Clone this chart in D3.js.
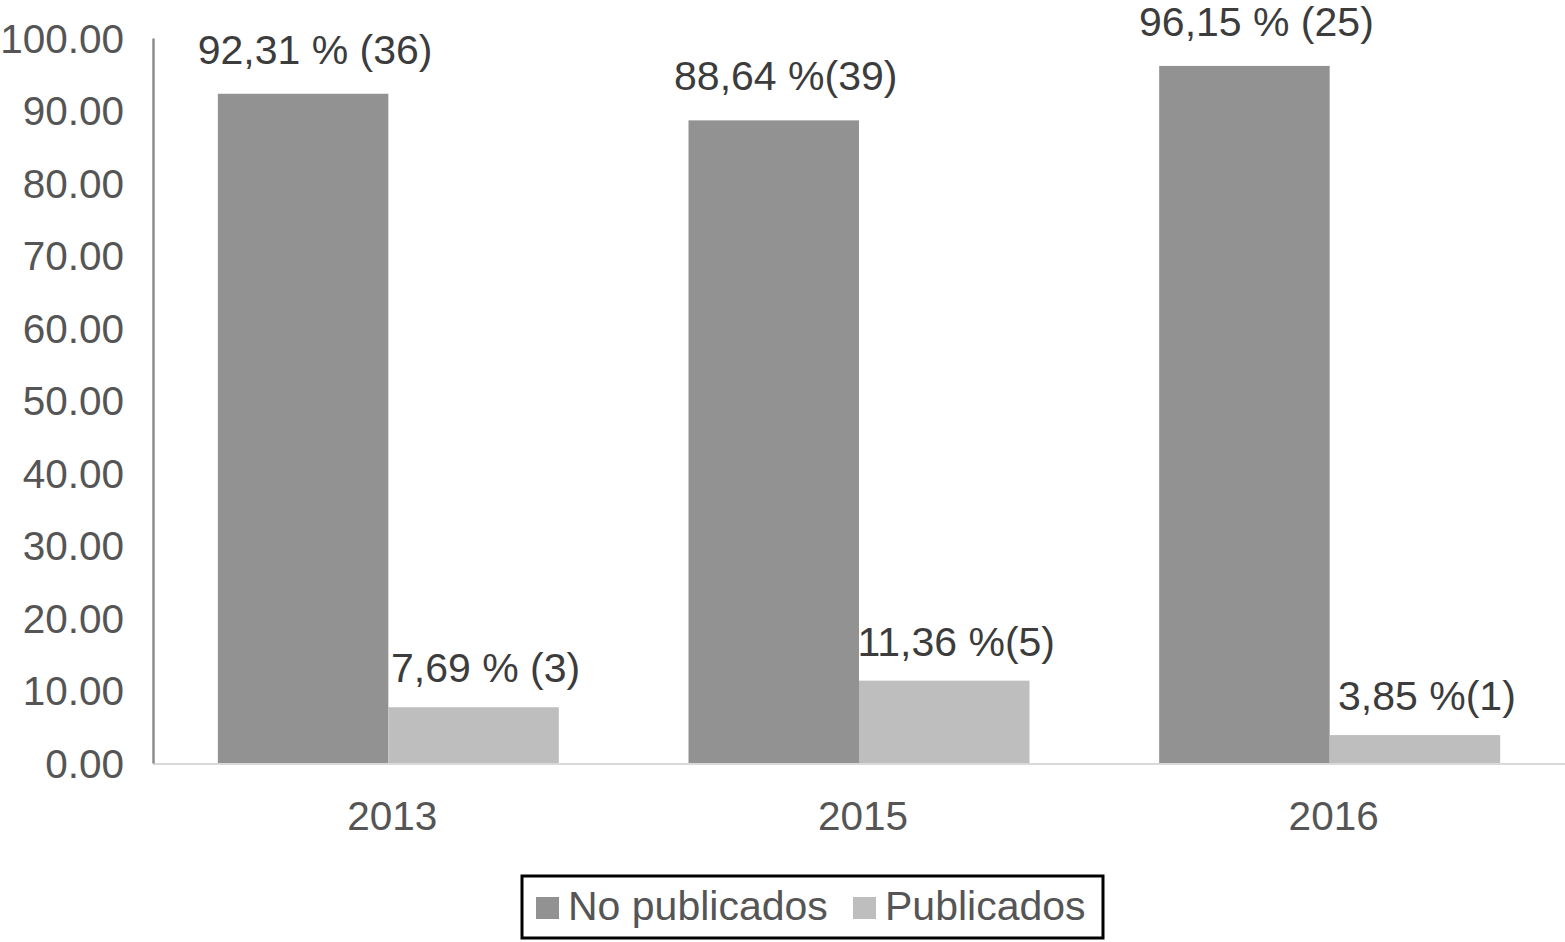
<!DOCTYPE html>
<html>
<head>
<meta charset="utf-8">
<script src="https://cdn.jsdelivr.net/npm/d3@7"></script>
<style>
  html, body { margin: 0; padding: 0; background: #fff; }
  svg { display: block; font-family: "Liberation Sans", Arial, Helvetica, sans-serif; }
</style>
</head>
<body>
<svg id="chart" width="1565" height="942"></svg>
<script>
const categories = ["2013", "2015", "2016"];
const seriesNames = ["No publicados", "Publicados"];
const noPublicados = [92.31, 88.64, 96.15];
const publicados = [7.69, 11.36, 3.85];
const labelsNoPub = ["92,31 % (36)", "88,64 %(39)", "96,15 % (25)"];
const labelsPub = ["7,69 % (3)", "11,36 %(5)", "3,85 %(1)"];
const yTicks = [0, 10, 20, 30, 40, 50, 60, 70, 80, 90, 100];
const colors = ["#929292", "#bebebe"];

const svg = d3.select("#chart");
const mLeft = 153, mRight = 1565, mTop = 38, mBottom = 763;

const x0 = d3.scaleBand().domain(categories).range([mLeft, mRight]).paddingInner(0.2755).paddingOuter(0.2755 / 2);
const x1 = d3.scaleBand().domain(seriesNames).range([0, x0.bandwidth()]).padding(0);
const y = d3.scaleLinear().domain([0, 100]).range([mBottom, mTop]);

const series = [noPublicados, publicados];
const labels = [labelsNoPub, labelsPub];

// bars
seriesNames.forEach((s, si) => {
  svg.append("g").selectAll("rect")
    .data(categories)
    .join("rect")
    .attr("x", c => x0(c) + x1(s))
    .attr("y", (c, i) => y(series[si][i]))
    .attr("width", x1.bandwidth())
    .attr("height", (c, i) => y(0) - y(series[si][i]))
    .attr("fill", colors[si]);
});

// x axis baseline
svg.append("line")
  .attr("x1", mLeft).attr("x2", mRight)
  .attr("y1", y(0) + 1).attr("y2", y(0) + 1)
  .attr("stroke", "#d9d9d9").attr("stroke-width", 2);

// y axis
const yAxis = d3.axisLeft(y).tickValues(yTicks).tickFormat(d3.format(".2f")).tickSize(0).tickPadding(29);
const gy = svg.append("g").attr("transform", `translate(${mLeft},0)`).call(yAxis);
gy.select(".domain").attr("stroke", "#8c8c8c").attr("stroke-width", 2.5);
gy.selectAll("text")
  .attr("font-size", 40.5).attr("fill", "#555")
  .attr("font-family", "Liberation Sans, Arial, sans-serif")
  .attr("dy", "0.35em");

// x axis labels
const xAxis = d3.axisBottom(x0).tickSize(0).tickPadding(38);
const gx = svg.append("g").attr("transform", `translate(0,${mBottom})`).call(xAxis);
gx.select(".domain").remove();
gx.selectAll("text")
  .attr("font-size", 40.5).attr("fill", "#555")
  .attr("font-family", "Liberation Sans, Arial, sans-serif")
  .attr("dx", 4);

// data labels
seriesNames.forEach((s, si) => {
  svg.append("g").selectAll("text")
    .data(categories)
    .join("text")
    .attr("x", c => x0(c) + x1(s) + x1.bandwidth() / 2 + 12)
    .attr("y", (c, i) => y(series[si][i]) - (si === 0 ? 30 : 25))
    .attr("text-anchor", "middle")
    .attr("font-size", 41)
    .attr("fill", "#3c3c3c")
    .text((c, i) => labels[si][i]);
});

// legend
const lg = svg.append("g");
lg.append("rect")
  .attr("x", 522).attr("y", 876).attr("width", 581).attr("height", 62)
  .attr("fill", "#fff").attr("stroke", "#000").attr("stroke-width", 3);
const legendX = [536, 853];
seriesNames.forEach((s, si) => {
  lg.append("rect")
    .attr("x", legendX[si]).attr("y", 897).attr("width", 23).attr("height", 22)
    .attr("fill", colors[si]);
  lg.append("text")
    .attr("x", legendX[si] + 32).attr("y", 920)
    .attr("font-size", 41).attr("fill", "#555")
    .text(s);
});
</script>
</body>
</html>
